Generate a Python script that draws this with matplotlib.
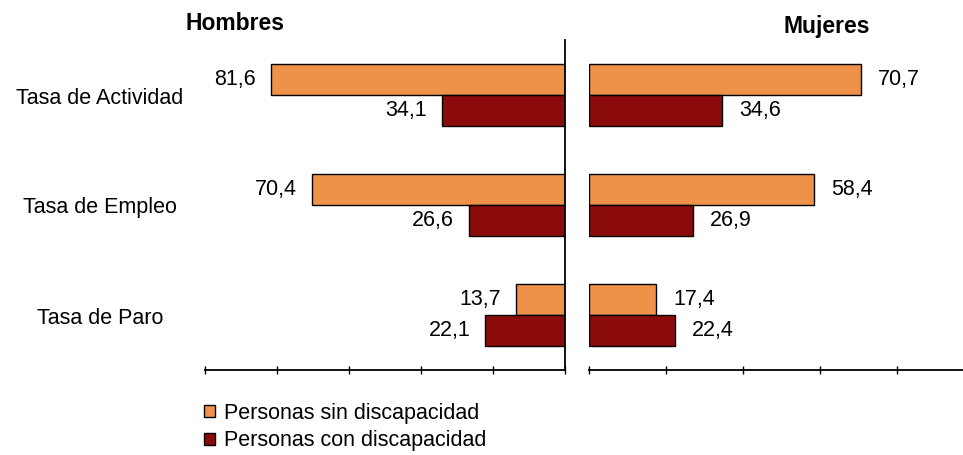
import matplotlib.pyplot as plt
from matplotlib.patches import Patch

plt.rcParams['font.family'] = ['Liberation Sans', 'DejaVu Sans']

categories = ['Tasa de Actividad', 'Tasa de Empleo', 'Tasa de Paro']
hombres_sin = [81.6, 70.4, 13.7]
hombres_con = [34.1, 26.6, 22.1]
mujeres_sin = [70.7, 58.4, 17.4]
mujeres_con = [34.6, 26.9, 22.4]
series_names = ['Personas sin discapacidad', 'Personas con discapacidad']

c_sin = '#EE924A'
c_con = '#8B0B0B'
fs = 15.5

def fmt(v):
    return ('%.1f' % v).replace('.', ',')

fig = plt.figure(figsize=(9.63, 4.55), dpi=100)
W, H = 963., 455.
ax_h = fig.add_axes([205/W, (H-370)/H, 360/W, 330/H])
ax_m = fig.add_axes([589/W, (H-370)/H, 385/W, 330/H])

pos = list(range(len(categories)))
off = 0.14
bh = 0.28

for ax, sin, con, side in [(ax_h, hombres_sin, hombres_con, 'left'),
                           (ax_m, mujeres_sin, mujeres_con, 'right')]:
    ax.barh([p - off for p in pos], sin, height=bh, color=c_sin,
            edgecolor='black', linewidth=1)
    ax.barh([p + off for p in pos], con, height=bh, color=c_con,
            edgecolor='black', linewidth=1)
    ax.set_xlim(0, 100)
    ax.set_ylim(2.5, -0.5)
    ax.set_xticks([0, 20, 40, 60, 80, 100])
    ax.set_xticklabels([])
    ax.set_yticks([])
    ax.tick_params(axis='x', direction='inout', length=6, width=1)
    for s in ['top', 'left', 'right']:
        ax.spines[s].set_visible(False)
    ax.spines['bottom'].set_linewidth(1.3)
    for p, a, b in zip(pos, sin, con):
        if side == 'left':
            ax.annotate(fmt(a), (a, p - off), xytext=(-15, 0), textcoords='offset pixels',
                        ha='right', va='center', fontsize=fs)
            ax.annotate(fmt(b), (b, p + off), xytext=(-15, 0), textcoords='offset pixels',
                        ha='right', va='center', fontsize=fs)
        else:
            ax.annotate(fmt(a), (a, p - off), xytext=(17, 0), textcoords='offset pixels',
                        ha='left', va='center', fontsize=fs)
            ax.annotate(fmt(b), (b, p + off), xytext=(17, 0), textcoords='offset pixels',
                        ha='left', va='center', fontsize=fs)

ax_h.invert_xaxis()
ax_h.spines['right'].set_visible(True)
ax_h.spines['right'].set_linewidth(1.3)

for p, name in zip(pos, categories):
    ax_h.annotate(name, (0, p), xycoords=('figure fraction', 'data'),
                  xytext=(100, -3), textcoords='offset pixels',
                  ha='center', va='center', fontsize=fs)

fig.text(235/W, 1 - 23/H, 'Hombres', ha='center', va='center',
         fontsize=16.5, fontweight='bold')
fig.text(827/W, 1 - 27/H, 'Mujeres', ha='center', va='center',
         fontsize=16.5, fontweight='bold')

handles = [Patch(facecolor=c_sin, edgecolor='black', linewidth=1),
           Patch(facecolor=c_con, edgecolor='black', linewidth=1)]
fig.legend(handles, series_names, loc='upper left',
           bbox_to_anchor=(204/W, 1 - 403/H), frameon=False, fontsize=fs,
           handlelength=0.5, handleheight=0.5, handletextpad=0.45,
           labelspacing=0.3, borderpad=0, borderaxespad=0)

fig.savefig('out.png', dpi=100)
